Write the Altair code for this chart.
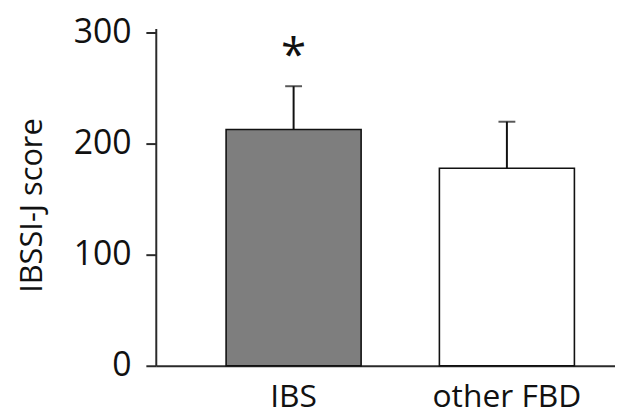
import altair as alt
import pandas as pd

groups = ["IBS", "other FBD"]
means = [213, 178]
upper = [252, 220]
fills = ["#7e7e7e", "#ffffff"]
marks = ["*", ""]
y_ticks = [0, 100, 200, 300]

df = pd.DataFrame({"group": groups, "mean": means, "upper": upper,
                   "fill": fills, "sig": marks})

FONT = "Open Sans"
AX = "#2a2a2a"

xenc = alt.X("group:N", sort=groups,
             scale=alt.Scale(paddingInner=0.367, paddingOuter=0.26, align=0.634),
             axis=alt.Axis(title=None, ticks=False, tickSize=0, labelAngle=0,
                           labelFontSize=32, labelPadding=16, labelColor="#111",
                           labelFont=FONT, domainColor=AX, domainWidth=2))

yscale = alt.Scale(domain=[0, 304], nice=False)

bars = alt.Chart(df).mark_bar(stroke="#111", strokeWidth=1.6).encode(
    x=xenc,
    y=alt.Y("mean:Q", scale=yscale,
            axis=alt.Axis(values=y_ticks, grid=False, tickSize=10, tickWidth=2,
                          tickColor=AX, domainColor=AX, domainWidth=2,
                          labelFontSize=34, labelPadding=15, labelColor="#111",
                          labelFont=FONT,
                          title="IBSSI-J score", titleFont=FONT, titleFontSize=31,
                          titleFontWeight="normal", titleColor="#111",
                          titleAngle=-90, titleX=-124, titleY=178,
                          titleAlign="center", titleBaseline="middle")),
    fill=alt.Fill("fill:N", scale=None),
)

rule = alt.Chart(df).mark_rule(color="#111", strokeWidth=2).encode(
    x=alt.X("group:N", sort=groups),
    y=alt.Y("mean:Q", scale=yscale),
    y2="upper:Q",
)

cap = alt.Chart(df).mark_tick(color="#111", thickness=2, size=17).encode(
    x=alt.X("group:N", sort=groups),
    y=alt.Y("upper:Q", scale=yscale),
)

star = alt.Chart(df).mark_text(fontSize=46, font=FONT, color="#111",
                               baseline="alphabetic", dy=-15).encode(
    x=alt.X("group:N", sort=groups),
    y=alt.Y("upper:Q", scale=yscale),
    text="sig:N",
)

chart = alt.layer(bars, rule, cap, star).properties(
    width=463, height=340,
    autosize=alt.AutoSizeParams(type="none"),
    padding={"left": 149, "top": 19, "right": 0, "bottom": 56},
    background="white",
).configure_view(stroke=None)

chart.save("out.html", embed_options={"renderer": "svg", "actions": False})
